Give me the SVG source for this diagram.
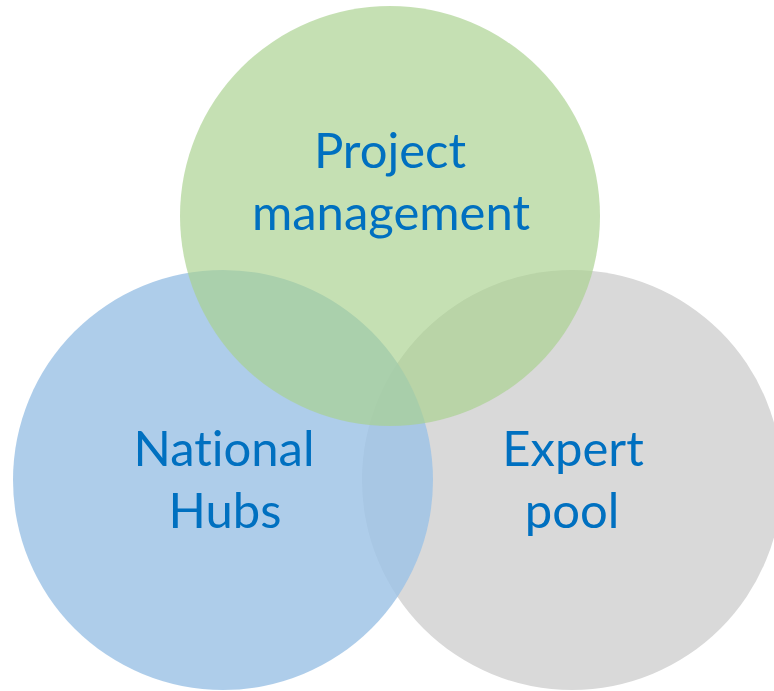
<svg xmlns="http://www.w3.org/2000/svg" width="774" height="691" viewBox="0 0 774 691">
<style>
.lbl{font-family:Lato,"Open Sans","Liberation Sans",sans-serif;font-size:49px;fill:#0070C0;text-anchor:middle;font-variant-ligatures:none;font-feature-settings:"liga" 0,"clig" 0}
</style>
<rect width="774" height="691" fill="#ffffff"/>
<g id="expert-pool">
<circle cx="572" cy="480" r="210" fill="#D9D9D9"/>
</g>
<g id="national-hubs">
<circle cx="223" cy="480" r="210" fill="#9DC3E6" fill-opacity="0.83"/>
</g>
<g id="project-management">
<circle cx="390" cy="216" r="210" fill="#A9D18E" fill-opacity="0.67"/>
</g>
<g id="connectors"></g>
<g id="labels">
<text class="lbl" x="390" y="168">Project</text>
<text class="lbl" x="391" y="230">management</text>
<text class="lbl" x="224" y="466">National</text>
<text class="lbl" x="225" y="528">Hubs</text>
<text class="lbl" x="573" y="466">Expert</text>
<text class="lbl" x="572" y="528">pool</text>
</g>
</svg>
